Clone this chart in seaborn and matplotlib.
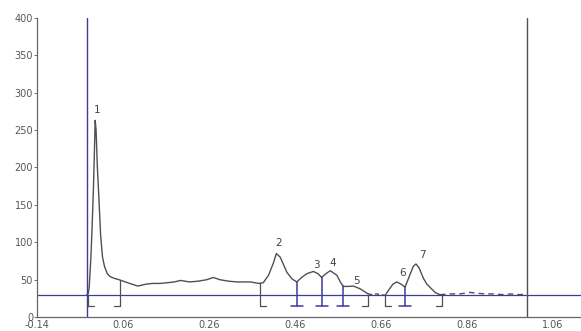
import numpy as np
import pandas as pd
import seaborn as sns
import matplotlib.pyplot as plt

# trace (solid part)
trace_x = [-0.0244, -0.0214, -0.019, -0.015, -0.012, -0.009, -0.0067, -0.0051, -0.003, 0.0,
           0.0035, 0.0075, 0.012, 0.0165, 0.023, 0.03, 0.0385, 0.053, 0.075, 0.094,
           0.113, 0.128, 0.1463, 0.1635, 0.1787, 0.1938, 0.2141, 0.2343, 0.2545, 0.2697,
           0.2849, 0.3051, 0.3254, 0.3557, 0.3759, 0.386, 0.3982, 0.4093, 0.4164, 0.4255,
           0.4407, 0.4528, 0.464, 0.4751, 0.4872, 0.5024, 0.5135, 0.5216, 0.5317, 0.5418,
           0.557, 0.5661, 0.5722, 0.5833, 0.5955, 0.6106, 0.6299]
trace_y = [30, 31, 40, 80, 125, 175, 225, 263, 250, 200,
           160, 110, 80, 68, 58, 54, 52, 49.5, 45, 41.5,
           44, 45, 45, 46, 47, 49, 47, 48, 50, 53,
           50, 48, 47, 47, 45, 46, 56, 72, 85, 80,
           60, 51, 47, 53, 58, 61, 58, 53, 58, 62,
           56, 46, 41, 41, 41.5, 38, 31]

gap_x = [0.6299, 0.639, 0.649, 0.6592, 0.6693]
gap_y = [31, 30, 31, 30, 29]

late_x = [0.6693, 0.6774, 0.6875, 0.6966, 0.7067, 0.7158, 0.7259, 0.735, 0.7411, 0.7482,
          0.7583, 0.7664, 0.7735, 0.7856, 0.7968]
late_y = [29, 36, 44, 47, 44, 40, 55, 68, 71, 66, 52, 44, 40, 33, 30]

tail_x = [0.7968, 0.821, 0.8413, 0.8565, 0.8666, 0.8818, 0.902, 0.9222, 0.9424, 0.9627,
          0.9829, 1.0]
tail_y = [30, 31, 31, 32, 33, 32, 31, 31, 30, 31, 30, 31]

# integration marks: position, top of drop line, bracket type
mark_x = [-0.0214, 0.053, 0.3786, 0.464, 0.5216, 0.5722, 0.629, 0.669, 0.7158, 0.8008]
mark_top = [30, 50, 45, 47, 53, 41, 30, 30, 40, 30]
mark_kind = ["[", "]", "[", "T", "T", "T", "]", "[", "T", "]"]

peak_labels = ["1", "2", "3", "4", "5", "6", "7"]
label_x = [0.0, 0.4205, 0.5095, 0.548, 0.6035, 0.7097, 0.7553]
label_y = [270, 92, 63, 66, 42, 52, 76]

baseline = 30
start_line = -0.0244
end_line = 1.0

sns.set_style("ticks")
plt.rcParams["font.family"] = ["DejaVu Sans"]

fig = plt.figure(figsize=(5.81, 3.31), dpi=100)
ax = fig.add_axes([0.064, 0.042, 0.936, 0.904])

grey = "#505050"
blue = "#3c3c9c"

sns.lineplot(x=trace_x, y=trace_y, ax=ax, color=grey, lw=1.0, sort=False, estimator=None)
sns.lineplot(x=gap_x, y=gap_y, ax=ax, color=grey, lw=1.0, sort=False, estimator=None,
             linestyle=(0, (3, 2)))
sns.lineplot(x=late_x, y=late_y, ax=ax, color=grey, lw=1.0, sort=False, estimator=None)
sns.lineplot(x=tail_x, y=tail_y, ax=ax, color=grey, lw=1.0, sort=False, estimator=None,
             linestyle=(0, (4, 3)))

ax.axhline(baseline, color=blue, lw=0.9)
ax.axvline(start_line, color=blue, lw=1.0)
ax.axvline(end_line, color=grey, lw=1.0)

# drop lines with brackets
w = 0.014
low = 15
for x, top, kind in zip(mark_x, mark_top, mark_kind):
    c = blue if kind == "T" else grey
    ax.plot([x, x], [low, top], color=c, lw=1.1 if kind == "T" else 0.9)
    if kind == "[":
        ax.plot([x, x + w], [low, low], color=grey, lw=0.9)
    elif kind == "]":
        ax.plot([x - w, x], [low, low], color=grey, lw=0.9)
    else:
        ax.plot([x - w, x + w], [low, low], color=blue, lw=1.1)

for t, x, y in zip(peak_labels, label_x, label_y):
    ax.text(x, y, t, fontsize=7.5, color="#444444", ha="center", va="bottom")

ax.set_xlim(-0.14, 1.125)
ax.set_ylim(0, 400)
ax.set_xticks([-0.14, 0.06, 0.26, 0.46, 0.66, 0.86, 1.06])
ax.set_xticklabels(["-0.14", "0.06", "0.26", "0.46", "0.66", "0.86", "1.06"])
ax.set_yticks(np.arange(0, 401, 50))
ax.tick_params(axis="both", labelsize=7, colors="#555555", length=2, width=0.6, pad=1)
ax.tick_params(axis="x", length=0, pad=2)
for s in ["top", "right"]:
    ax.spines[s].set_visible(False)
for s in ["left", "bottom"]:
    ax.spines[s].set_color("#666666")
    ax.spines[s].set_linewidth(0.9)
ax.set_xlabel("")
ax.set_ylabel("")

fig.savefig("out.png", dpi=100)
